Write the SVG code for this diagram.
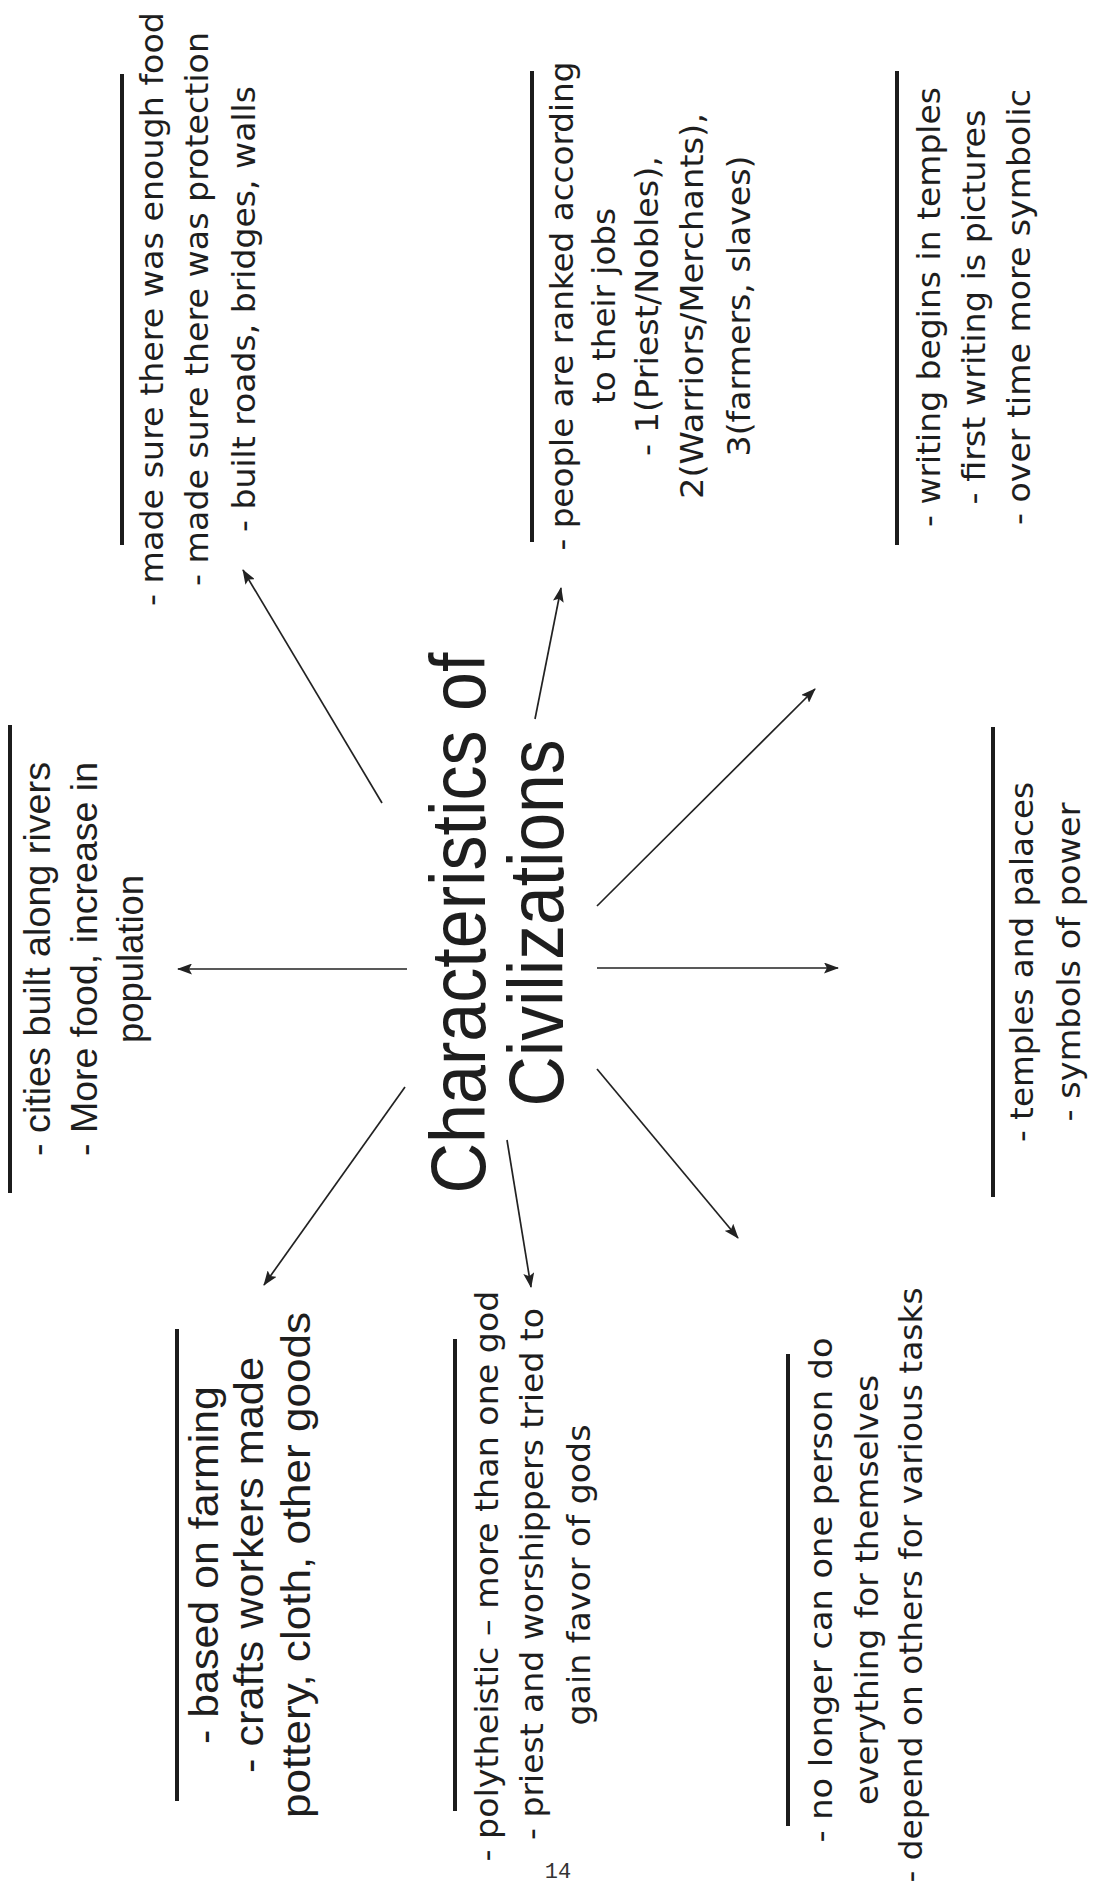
<svg xmlns="http://www.w3.org/2000/svg" width="1094" height="1902" viewBox="0 0 1094 1902">
<defs>
<style>
.bg{fill:#ffffff}
.bar{stroke:#1c1c1c;stroke-width:4;stroke-linecap:butt}
.t{font-family:"DejaVu Sans","Verdana",sans-serif;font-size:32px;fill:#1e1e1e}
.a{font-family:"Liberation Sans",Arial,sans-serif;font-size:36px;fill:#1e1e1e}
.af{font-family:"Liberation Sans",Arial,sans-serif;font-size:40px;fill:#1e1e1e}
.title{font-family:"Liberation Sans",Arial,sans-serif;font-size:78px;fill:#1e1e1e}
.pg{font-family:"Liberation Mono","Courier New",monospace;font-size:22px;fill:#333}
.conn{stroke:#222;stroke-width:1.7;fill:none;marker-end:url(#ah)}
</style>
<marker id="ah" viewBox="0 0 15 11" refX="14" refY="5.5" markerWidth="15" markerHeight="11" markerUnits="userSpaceOnUse" orient="auto">
<path d="M0,0 L15,5.5 L0,11 L3,5.5 z" fill="#222"/>
</marker>
</defs>
<rect class="bg" x="0" y="0" width="1094" height="1902"/>

<g id="connectors">
<line class="conn" x1="382" y1="803" x2="243" y2="570"/>
<line class="conn" x1="407" y1="969" x2="178" y2="969"/>
<line class="conn" x1="405" y1="1087" x2="264" y2="1285"/>
<line class="conn" x1="507" y1="1140" x2="531" y2="1287"/>
<line class="conn" x1="597" y1="1069" x2="738" y2="1238"/>
<line class="conn" x1="597" y1="968" x2="838" y2="968"/>
<line class="conn" x1="597" y1="906" x2="815" y2="689"/>
<line class="conn" x1="535" y1="719" x2="561" y2="588"/>
</g>

<g id="n-title">
<text class="title" text-anchor="middle" transform="translate(485,923) rotate(-90)" textLength="541" lengthAdjust="spacingAndGlyphs">Characteristics of</text>
<text class="title" text-anchor="middle" transform="translate(563,923) rotate(-90)" textLength="367" lengthAdjust="spacingAndGlyphs">Civilizations</text>
</g>

<g id="n-food">
<line class="bar" x1="122" y1="74" x2="122" y2="545"/>
<text class="t" text-anchor="middle" transform="translate(163,309) rotate(-90)" textLength="594" lengthAdjust="spacingAndGlyphs">- made sure there was enough food</text>
<text class="t" text-anchor="middle" transform="translate(208,309) rotate(-90)" textLength="554" lengthAdjust="spacingAndGlyphs">- made sure there was protection</text>
<text class="t" text-anchor="middle" transform="translate(255,309) rotate(-90)" textLength="446" lengthAdjust="spacingAndGlyphs">- built roads,  bridges, walls</text>
</g>

<g id="n-ranked">
<line class="bar" x1="532" y1="71" x2="532" y2="542"/>
<text class="t" text-anchor="middle" transform="translate(573,306) rotate(-90)" textLength="489" lengthAdjust="spacingAndGlyphs">- people are ranked according</text>
<text class="t" text-anchor="middle" transform="translate(615,306) rotate(-90)" textLength="196" lengthAdjust="spacingAndGlyphs">to their jobs</text>
<text class="t" text-anchor="middle" transform="translate(658,306) rotate(-90)" textLength="300" lengthAdjust="spacingAndGlyphs">- 1(Priest/Nobles),</text>
<text class="t" text-anchor="middle" transform="translate(703,306) rotate(-90)" textLength="386" lengthAdjust="spacingAndGlyphs">2(Warriors/Merchants),</text>
<text class="t" text-anchor="middle" transform="translate(750,306) rotate(-90)" textLength="301" lengthAdjust="spacingAndGlyphs">3(farmers,  slaves)</text>
</g>

<g id="n-writing">
<line class="bar" x1="897" y1="71" x2="897" y2="545"/>
<text class="t" text-anchor="middle" transform="translate(940,307) rotate(-90)" textLength="440" lengthAdjust="spacingAndGlyphs">- writing begins in temples</text>
<text class="t" text-anchor="middle" transform="translate(985,307) rotate(-90)" textLength="395" lengthAdjust="spacingAndGlyphs">- first writing is pictures</text>
<text class="t" text-anchor="middle" transform="translate(1030,307) rotate(-90)" textLength="436" lengthAdjust="spacingAndGlyphs">- over time more symbolic</text>
</g>

<g id="n-rivers">
<line class="bar" x1="10" y1="725" x2="10" y2="1193"/>
<text class="a" text-anchor="middle" transform="translate(50,959) rotate(-90)" textLength="394" lengthAdjust="spacingAndGlyphs">- cities built along rivers</text>
<text class="a" text-anchor="middle" transform="translate(97,959) rotate(-90)" textLength="394" lengthAdjust="spacingAndGlyphs">- More food,  increase in</text>
<text class="a" text-anchor="middle" transform="translate(143,959) rotate(-90)" textLength="168" lengthAdjust="spacingAndGlyphs">population</text>
</g>

<g id="n-temples">
<line class="bar" x1="993" y1="727" x2="993" y2="1197"/>
<text class="t" text-anchor="middle" transform="translate(1033,962) rotate(-90)" textLength="360" lengthAdjust="spacingAndGlyphs">- temples and palaces</text>
<text class="t" text-anchor="middle" transform="translate(1080,962) rotate(-90)" textLength="319" lengthAdjust="spacingAndGlyphs">- symbols of power</text>
</g>

<g id="n-farming">
<line class="bar" x1="177" y1="1329" x2="177" y2="1801"/>
<text class="af" text-anchor="middle" transform="translate(218,1565) rotate(-90)" textLength="358" lengthAdjust="spacingAndGlyphs">- based on farming</text>
<text class="af" text-anchor="middle" transform="translate(263,1565) rotate(-90)" textLength="416" lengthAdjust="spacingAndGlyphs">- crafts workers made</text>
<text class="af" text-anchor="middle" transform="translate(310,1565) rotate(-90)" textLength="506" lengthAdjust="spacingAndGlyphs">pottery, cloth,  other goods</text>
</g>

<g id="n-religion">
<line class="bar" x1="455" y1="1339" x2="455" y2="1811"/>
<text class="t" text-anchor="middle" transform="translate(498,1576) rotate(-90)" textLength="571" lengthAdjust="spacingAndGlyphs">- polytheistic – more than one god</text>
<text class="t" text-anchor="middle" transform="translate(543,1574) rotate(-90)" textLength="532" lengthAdjust="spacingAndGlyphs">- priest and worshippers tried to</text>
<text class="t" text-anchor="middle" transform="translate(590,1575) rotate(-90)" textLength="301" lengthAdjust="spacingAndGlyphs">gain favor of gods</text>
</g>

<g id="n-labor">
<line class="bar" x1="788" y1="1354" x2="788" y2="1826"/>
<text class="t" text-anchor="middle" transform="translate(832,1590) rotate(-90)" textLength="505" lengthAdjust="spacingAndGlyphs">- no longer can one person do</text>
<text class="t" text-anchor="middle" transform="translate(878,1590) rotate(-90)" textLength="430" lengthAdjust="spacingAndGlyphs">everything for themselves</text>
<text class="t" text-anchor="middle" transform="translate(922,1585) rotate(-90)" textLength="595" lengthAdjust="spacingAndGlyphs">- depend on others for various tasks</text>
</g>

<text class="pg" x="558" y="1878" text-anchor="middle">14</text>
</svg>
